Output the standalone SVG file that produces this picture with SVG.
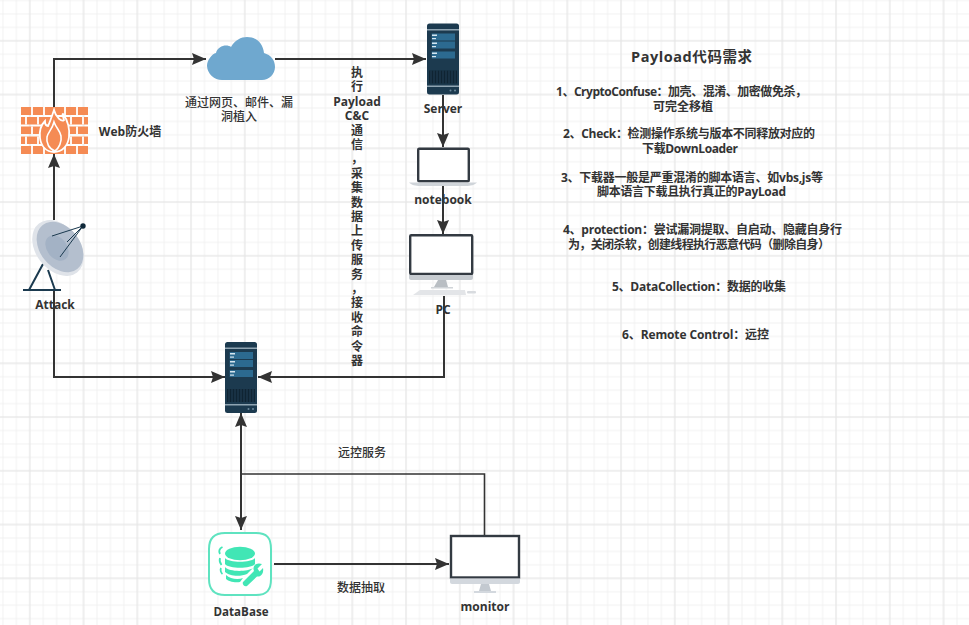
<svg xmlns="http://www.w3.org/2000/svg" xmlns:xlink="http://www.w3.org/1999/xlink" width="969" height="625" viewBox="0 0 969 625">
<style>
text{font-family:"Open Sans","Noto Sans CJK SC",sans-serif;font-size:12px;fill:#333;text-anchor:middle}
.b{font-weight:700}
.n{font-weight:500}
.c{fill:none;stroke:#333;stroke-width:2}
.t{fill:none;stroke:#333;stroke-width:1.6}
</style>
<defs>
<pattern id="minor" patternUnits="userSpaceOnUse" width="13.4375" height="13.4375" x="-3.8" y="-6.23"><path d="M6.72 0V13.4375M0 6.72H13.4375" fill="none" stroke="#f1f1f1" stroke-width="1"/></pattern>
<pattern id="major" patternUnits="userSpaceOnUse" width="53.75" height="53.75" x="2.925" y="13.925"><path d="M26.875 0V53.75M0 26.875H53.75" fill="none" stroke="#e6e6e6" stroke-width="1"/></pattern>
<marker id="a" markerUnits="userSpaceOnUse" markerWidth="15" markerHeight="13" refX="14" refY="6" orient="auto-start-reverse"><path d="M0 0L14 6L0 12L2 6Z" fill="#333"/></marker>
<g id="srv">
<rect x="0" y="0" width="32" height="71" rx="2.500" fill="#1c3a4f"/>
<rect x="0" y="5.500" width="32" height="1.500" fill="#8fa4b2"/>
<rect x="0" y="62" width="32" height="1.500" fill="#8fa4b2"/>
<rect x="4.700" y="10" width="23.300" height="7" fill="#2c6a90"/>
<rect x="4.700" y="18" width="23.300" height="7" fill="#2c6a90"/>
<rect x="4.700" y="28" width="23.300" height="7" fill="#2c6a90"/>
<rect x="5" y="11" width="5" height="1.500" fill="#d5e6f0"/>
<rect x="5" y="14.500" width="4" height="1.200" fill="#d5e6f0"/>
<rect x="5" y="19" width="5" height="1.500" fill="#d5e6f0"/>
<rect x="5" y="22.500" width="4" height="1.200" fill="#d5e6f0"/>
<rect x="5" y="29" width="5" height="1.500" fill="#d5e6f0"/>
<rect x="5" y="32.500" width="4" height="1.200" fill="#d5e6f0"/>
<rect x="2" y="47" width="28" height="13" fill="#0f2433"/>
<path d="M4 47V60M7 47V60M10 47V60M13 47V60M16 47V60M19 47V60M22 47V60M25 47V60M28 47V60" stroke="#27485f" stroke-width=".8"/>
<circle cx="23.500" cy="67" r="1" fill="#6d8a9c"/>
<circle cx="28" cy="67" r="1" fill="#6d8a9c"/>
</g>
</defs>
<rect width="969" height="625" fill="#fff"/>
<rect width="969" height="625" fill="url(#minor)"/>
<rect width="969" height="625" fill="url(#major)"/>

<g id="connectors">
<path class="c" d="M54 107V59H206" marker-end="url(#a)"/>
<path class="c" d="M275 59H426" marker-end="url(#a)"/>
<path class="c" d="M443 95V147" marker-end="url(#a)"/>
<path class="c" d="M443 186V234" marker-end="url(#a)"/>
<path class="c" d="M444 296V377H258" marker-end="url(#a)"/>
<path class="c" d="M54 220V154" marker-end="url(#a)"/>
<path class="c" d="M54 290V377H225" marker-end="url(#a)"/>
<path class="c" d="M241 413V530" marker-start="url(#a)" marker-end="url(#a)"/>
<path class="t" d="M241 474H484.500V535"/>
<path class="c" d="M274 564H449" marker-end="url(#a)"/>
</g>

<g id="firewall">
<path fill="#f58b54" d="M21 107h67v8H21zM21 117h67v7.500H21zM21 126.500h67v7.500H21zM21 136.500h67v7.500H21zM21 146h67v8H21z"/>
<path stroke="#fff" stroke-width="1.800" d="M32 107v8M44 107v8M65 107v8M77 107v8M26 117v7.500M38 117v7.500M71 117v7.500M83 117v7.500M32 126.500v7.500M77 126.500v7.500M26 136.500v7.500M38 136.500v7.500M71 136.500v7.500M83 136.500v7.500M32 146v8M44 146v8M65 146v8M77 146v8"/>
<path d="M54 110C56 118 62 122 64 120C63 116 62 114 63 114C68 120 70 130 69 137C68 146 62 152 54 152C46 152 41 146 40 138C39 130 42 124 45 121C45 124 46 126 48 126C50 122 52 116 54 110Z" fill="#f58b54" stroke="#fff" stroke-width="1.800"/>
<path d="M54 122C56 128 60 130 61 136C62 142 59 148 55 151C49 149 46 143 47 137C48 132 52 130 54 122Z" fill="#f58b54" stroke="#fff" stroke-width="1.600"/>
<text class="b" x="130" y="136">Web防火墙</text>
</g>

<g id="cloud">
<path fill="#6fa8cf" d="M222 80A15 15 0 0 1 207 66C207 60 212 54 216 53C217 48 222 45.500 226 45.500C228 45.500 230 46 231 47C235 40 241 37 247 37C256 37 263 43 264 53C271 55 275 60 275 67C275 74 269 80 262 80Z"/>
<text class="n"><tspan x="239" y="107">通过网页、邮件、漏</tspan><tspan x="239" y="121">洞植入</tspan></text>
</g>

<g id="server"><use href="#srv" xlink:href="#srv" x="427" y="23.500"/><text class="b" x="443" y="113">Server</text></g>

<g id="notebook">
<rect x="418.200" y="148.700" width="50.600" height="32.600" rx="1" fill="#fff" stroke="#333a42" stroke-width="2.400"/>
<path d="M409 182.500H477C475 185 470 186 466 186H420C416 186 411 185 409 182.500Z" fill="#cfd4d9"/>
<text class="b" x="443" y="204">notebook</text>
</g>

<g id="pc">
<rect x="410.200" y="235.200" width="62" height="38.800" rx="1" fill="#fff" stroke="#333a42" stroke-width="2.400"/>
<path d="M409 275H473V278C473 279 472 280 471 280H411C410 280 409 279 409 278Z" fill="#c6cbd0"/>
<path d="M438 280H446L448 287H434Z" fill="#b9bec3"/>
<rect x="431" y="287" width="22" height="1.500" fill="#d0d4d8"/>
<path d="M420 290H465L466 295H413Z" fill="#e3e5e8"/>
<rect x="467" y="291" width="9" height="2.500" rx="1" fill="#d8dbdf"/>
<text class="b" x="443" y="314">PC</text>
</g>

<g id="attack">
<path d="M43 264L29 290M48 270L55 290M23 290H61" fill="none" stroke="#1b3a4f" stroke-width="2"/>
<ellipse cx="58" cy="248" rx="31" ry="22" transform="rotate(52 58 248)" fill="#dfe3e9"/>
<ellipse cx="60" cy="247" rx="28" ry="20" transform="rotate(52 60 247)" fill="#b4bfce"/>
<ellipse cx="57" cy="248" rx="14" ry="10" transform="rotate(52 57 248)" fill="#a3b2c5"/>
<path d="M83 226L52 236M83 226L67 242M83 226L60 257" fill="none" stroke="#1b3a4f" stroke-width="1"/>
<circle cx="83" cy="226" r="2.700" fill="#10293a"/>
<text class="b" x="55" y="309">Attack</text>
</g>

<g id="label-exec">
<text class="b"><tspan x="357" y="77">执</tspan><tspan x="357" y="91.400">行</tspan><tspan x="357" y="105.800">Payload</tspan><tspan x="357" y="120.200">C&amp;C</tspan><tspan x="357" y="134.600">通</tspan><tspan x="357" y="149">信</tspan><tspan x="357" y="163.400">，</tspan><tspan x="357" y="177.800">采</tspan><tspan x="357" y="192.200">集</tspan><tspan x="357" y="206.600">数</tspan><tspan x="357" y="221">据</tspan><tspan x="357" y="235.400">上</tspan><tspan x="357" y="249.800">传</tspan><tspan x="357" y="264.200">服</tspan><tspan x="357" y="278.600">务</tspan><tspan x="357" y="293">，</tspan><tspan x="357" y="307.400">接</tspan><tspan x="357" y="321.800">收</tspan><tspan x="357" y="336.200">命</tspan><tspan x="357" y="350.600">令</tspan><tspan x="357" y="365">器</tspan></text>
</g>

<g id="c2"><use href="#srv" xlink:href="#srv" x="225" y="342"/></g>

<g id="database">
<path d="M225 533H256C267 533 271 538 271 549V579C271 590 267 595 256 595H225C214 595 209 590 209 579V549C209 538 214 533 225 533Z" fill="#fff" stroke="#5fe3c0" stroke-width="2"/>
<ellipse cx="240" cy="553.500" rx="15" ry="6.800" fill="#41e6b5"/>
<path d="M225 558C229 563 251 563 255 558V564C251 569 229 569 225 564ZM225 567C229 572 247 572 253 568L247 574C240 577 229 576 225 572ZM226 575C230 579 238 580 243 578L240 582C234 583 228 581 226 579Z" fill="#41e6b5"/>
<path d="M222.500 547C218.500 549 219 552 220 554M220 558C219 561 220 563 221.500 565M221 568C220 570 221 573 222.500 574" fill="none" stroke="#41e6b5" stroke-width="1.800"/>
<path d="M243 582L254 571C252 566 256 562 262 564L257.500 568.500L259.500 571.500L263 568C264 573 261 577 257 576.500L247 586C244 587 242 584 243 582Z" fill="#41e6b5"/>
<text class="b" x="241" y="616" textLength="55" lengthAdjust="spacingAndGlyphs">DataBase</text>
</g>

<g id="monitor">
<rect x="451" y="536" width="68" height="41.500" fill="#fff" stroke="#333a42" stroke-width="2.400"/>
<path d="M450 578.500H520V582C520 583 519 584 518 584H452C451 584 450 583 450 582Z" fill="#d3d8de"/>
<path d="M481 584H489L491 591H479Z" fill="#c3c9d0"/>
<rect x="474" y="591" width="22" height="2" fill="#d3d8de"/>
<text class="b" x="485" y="611">monitor</text>
</g>

<g id="edge-labels">
<text class="n" x="362" y="457">远控服务</text>
<text class="n" x="361" y="592">数据抽取</text>
</g>

<g id="requirements">
<text class="b" style="font-size:14.500px" x="691.500" y="62" textLength="121">Payload代码需求</text>
<text class="b"><tspan x="681.500" y="96" textLength="251">1、CryptoConfuse：加壳、混淆、加密做免杀，</tspan><tspan x="683" y="111">可完全移植</tspan></text>
<text class="b"><tspan x="689" y="138" textLength="252">2、Check：检测操作系统与版本不同释放对应的</tspan><tspan x="690" y="153" textLength="96">下载DownLoader</tspan></text>
<text class="b"><tspan x="692" y="182" textLength="262">3、下载器一般是严重混淆的脚本语言、如vbs,js等</tspan><tspan x="691.500" y="196" textLength="189">脚本语言下载且执行真正的PayLoad</tspan></text>
<text class="b"><tspan x="702.500" y="234" textLength="279">4、protection：尝试漏洞提取、自启动、隐藏自身行</tspan><tspan x="699" y="249" textLength="262">为，关闭杀软，创建线程执行恶意代码（删除自身）</tspan></text>
<text class="b" x="699" y="291" textLength="174">5、DataCollection：数据的收集</text>
<text class="b" x="695.500" y="339" textLength="147">6、Remote Control：远控</text>
</g>
</svg>
